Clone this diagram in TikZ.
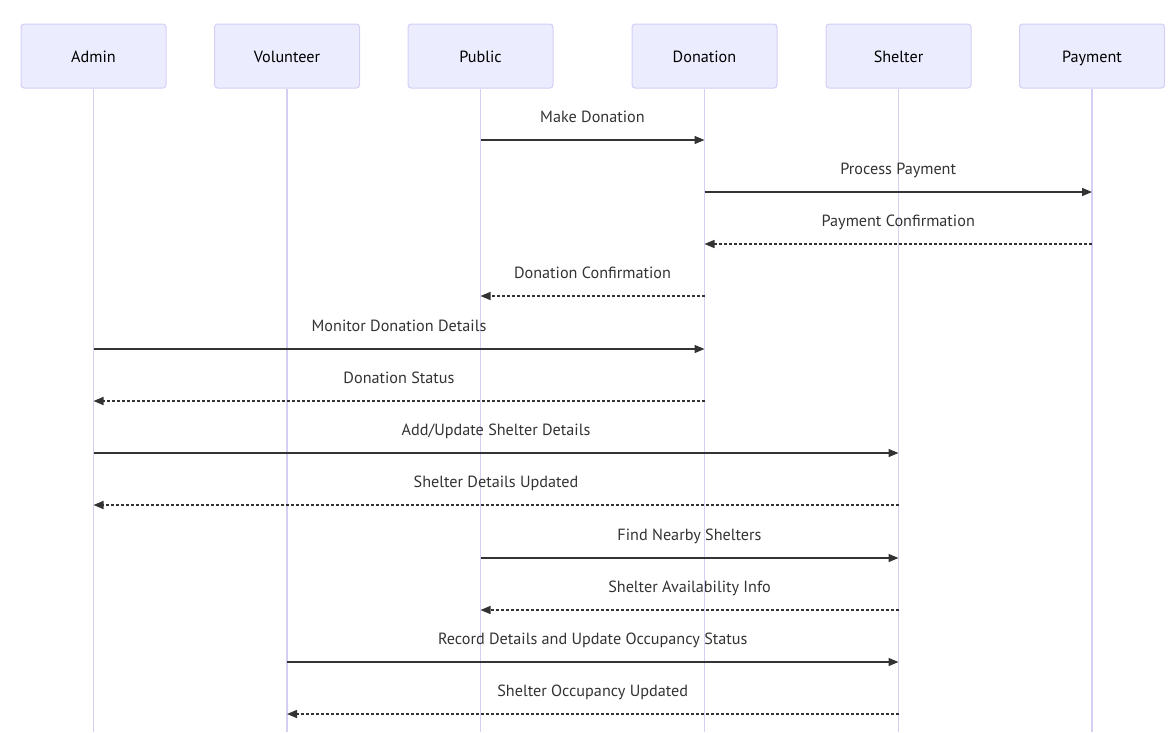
\documentclass[tikz,border=0pt]{standalone}
\usepackage{fontspec}
\setmainfont{PT Sans}
\usetikzlibrary{arrows.meta}
\definecolor{actfill}{HTML}{ECECFF}
\definecolor{actline}{HTML}{D6CEF3}
\definecolor{msgc}{HTML}{333333}
\begin{document}
\begin{tikzpicture}[x=1pt,y=-1pt,
  actor/.style={draw=actline, fill=actfill, rounded corners=3pt, minimum width=145pt, minimum height=64pt, line width=1pt, font=\fontsize{16.2}{19}\selectfont, text=black, inner sep=0pt, text height=13pt, text depth=0pt},
  life/.style={draw=actline, line width=1.6pt},
  msgline/.style={draw=msgc, line width=1.4pt, -{Triangle[length=10pt,width=8pt]}},
  reply/.style={msgline, dash pattern=on 3pt off 2pt},
  lbl/.style={font=\fontsize{16.2}{19}\selectfont, text=msgc, inner sep=0pt, anchor=base}
]
\useasboundingbox (0,0) rectangle (1173,732);
\node[actor] (adm) at (93.5,56) {Admin};
\node[actor] (vol) at (287,56) {Volunteer};
\node[actor] (pub) at (480.5,56) {Public};
\node[actor] (don) at (704.5,56) {Donation};
\node[actor] (she) at (898.5,56) {Shelter};
\node[actor] (pay) at (1092,56) {Payment};
\coordinate (bottom) at (0,732);
\foreach \a in {adm,vol,pub,don,she,pay}{
  \draw[life] (\a.south) -- (\a.south |- bottom);
}
\foreach \i/\a/\b/\y/\st/\t in {
  1/pub/don/140/msgline/{Make Donation},
  2/don/pay/192/msgline/{Process Payment},
  3/pay/don/244/reply/{Payment Confirmation},
  4/don/pub/296/reply/{Donation Confirmation},
  5/adm/don/349/msgline/{Monitor Donation Details},
  6/don/adm/401/reply/{Donation Status},
  7/adm/she/453/msgline/{Add/Update Shelter Details},
  8/she/adm/505/reply/{Shelter Details Updated},
  9/pub/she/558/msgline/{Find Nearby Shelters},
  10/she/pub/610/reply/{Shelter Availability Info},
  11/vol/she/662/msgline/{Record Details and Update Occupancy Status},
  12/she/vol/714/reply/{Shelter Occupancy Updated}}{
  \coordinate (m\i) at (0,\y);
  \draw[\st] (\a.south |- m\i) -- (\b.south |- m\i) node[midway, yshift=18pt, lbl] {\t};
}
\end{tikzpicture}
\end{document}
